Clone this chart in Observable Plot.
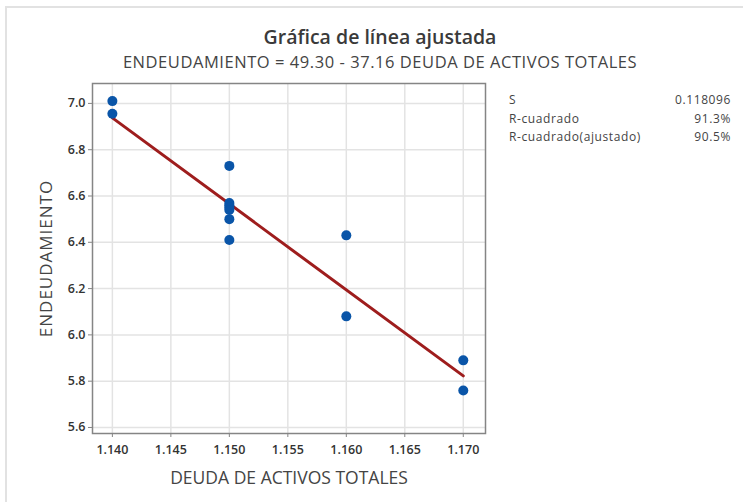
<!DOCTYPE html>
<html>
<head>
<meta charset="utf-8">
<script src="https://cdn.jsdelivr.net/npm/d3@7"></script>
<script src="https://cdn.jsdelivr.net/npm/@observablehq/plot@0.6"></script>
<style>
  html, body { margin: 0; padding: 0; background: #fff; }
  body { width: 743px; height: 502px; position: relative; overflow: hidden; font-family: "Open Sans", "Noto Sans", sans-serif; }
  #border { position: absolute; left: 5px; top: 6px; width: 740px; height: 500px; border-top: 2px solid #e2e2e2; border-left: 2px solid #e2e2e2; box-sizing: border-box; }
  #chart { position: absolute; left: 0; top: 0; }
  .title { position: absolute; left: 0; width: 760px; text-align: center; color: #333; white-space: nowrap; }
  #t1 { top: 23px; font-size: 19.5px; font-weight: 600; line-height: 27px; color: #3a3a3a; }
  #t2 { top: 50px; font-size: 16.5px; color: #444; letter-spacing: 0.55px; line-height: 23px; }
  #stats { position: absolute; left: 509px; top: 91px; width: 222px; font-size: 12px; color: #444; letter-spacing: 0.6px; }
  #stats .row { display: flex; justify-content: space-between; height: 18.5px; }
</style>
</head>
<body>
<div id="border"></div>
<div id="chart"></div>
<div class="title" id="t1"></div>
<div class="title" id="t2"></div>
<div id="stats"></div>
<script>
// Data
const deuda = [1.140, 1.140, 1.150, 1.150, 1.150, 1.150, 1.150, 1.150, 1.150, 1.160, 1.160, 1.170, 1.170];
const endeudamiento = [7.01, 6.955, 6.73, 6.57, 6.56, 6.55, 6.54, 6.50, 6.41, 6.43, 6.08, 5.89, 5.76];
// Fitted equation
const intercept = 49.30;
const slope = -37.16;
const fitRange = [1.140, 1.170];
const xTicks = [1.140, 1.145, 1.150, 1.155, 1.160, 1.165, 1.170];
const yTicks = [5.6, 5.8, 6.0, 6.2, 6.4, 6.6, 6.8, 7.0];
const statLabels = ["S", "R-cuadrado", "R-cuadrado(ajustado)"];
const statValues = ["0.118096", "91.3%", "90.5%"];
const titleText = "Gráfica de línea ajustada";
const subtitleText = "ENDEUDAMIENTO = 49.30 - 37.16 DEUDA DE ACTIVOS TOTALES";
const xLabel = "DEUDA DE ACTIVOS TOTALES";
const yLabel = "ENDEUDAMIENTO";

const points = deuda.map((d, i) => ({x: d, y: endeudamiento[i]}));
const fit = fitRange.map(x => ({x, y: intercept + slope * x}));

document.getElementById("t1").textContent = titleText;
document.getElementById("t2").textContent = subtitleText;
const stats = document.getElementById("stats");
statLabels.forEach((l, i) => {
  const r = document.createElement("div");
  r.className = "row";
  const a = document.createElement("span"); a.textContent = l;
  const b = document.createElement("span"); b.textContent = statValues[i];
  r.appendChild(a); r.appendChild(b);
  stats.appendChild(r);
});

const chart = Plot.plot({
  width: 743,
  height: 502,
  marginLeft: 92,
  marginRight: 258,
  marginTop: 83,
  marginBottom: 69,
  style: {fontFamily: "'Open Sans', 'Noto Sans', sans-serif", fontSize: "12.5px", color: "#333", background: "transparent"},
  x: {domain: [1.1383, 1.1719], ticks: xTicks, tickFormat: d3.format(".3f"), label: null},
  y: {domain: [5.574, 7.086], ticks: yTicks, tickFormat: d3.format(".1f"), label: null},
  marks: [
    Plot.gridX(xTicks, {stroke: "#e3e3e3", strokeOpacity: 1, strokeWidth: 1.5}),
    Plot.gridY(yTicks, {stroke: "#e3e3e3", strokeOpacity: 1, strokeWidth: 1.5}),
    Plot.frame({stroke: "#858585", strokeWidth: 1.5}),
    Plot.axisX(xTicks, {tickSize: 4, tickPadding: 8, tickFormat: d3.format(".3f"), fontWeight: 600, stroke: "#858585", fill: "#333", label: xLabel, labelAnchor: "center", labelOffset: 50, labelArrow: "none"}),
    Plot.axisY(yTicks, {tickSize: 4, tickPadding: 3, tickFormat: d3.format(".1f"), fontWeight: 600, stroke: "#858585", fill: "#333", label: yLabel, labelAnchor: "center", labelOffset: 53, labelArrow: "none"}),
    Plot.line(fit, {x: "x", y: "y", stroke: "#9e1d1d", strokeWidth: 3}),
    Plot.dot(points, {x: "x", y: "y", r: 5, fill: "#0a55a8", stroke: "none"})
  ]
});
document.getElementById("chart").appendChild(chart);
// Style axis labels (larger, lighter)
chart.querySelectorAll("[aria-label='x-axis label'] text").forEach(t => {
  t.setAttribute("font-size", "17.5px");
  t.setAttribute("font-weight", "400");
  t.setAttribute("fill", "#444");
});
chart.querySelectorAll("[aria-label='y-axis label'] text").forEach(t => {
  t.setAttribute("font-size", "17px");
  t.setAttribute("font-weight", "400");
  t.setAttribute("fill", "#444");
  t.setAttribute("letter-spacing", "1px");
});
</script>
</body>
</html>
